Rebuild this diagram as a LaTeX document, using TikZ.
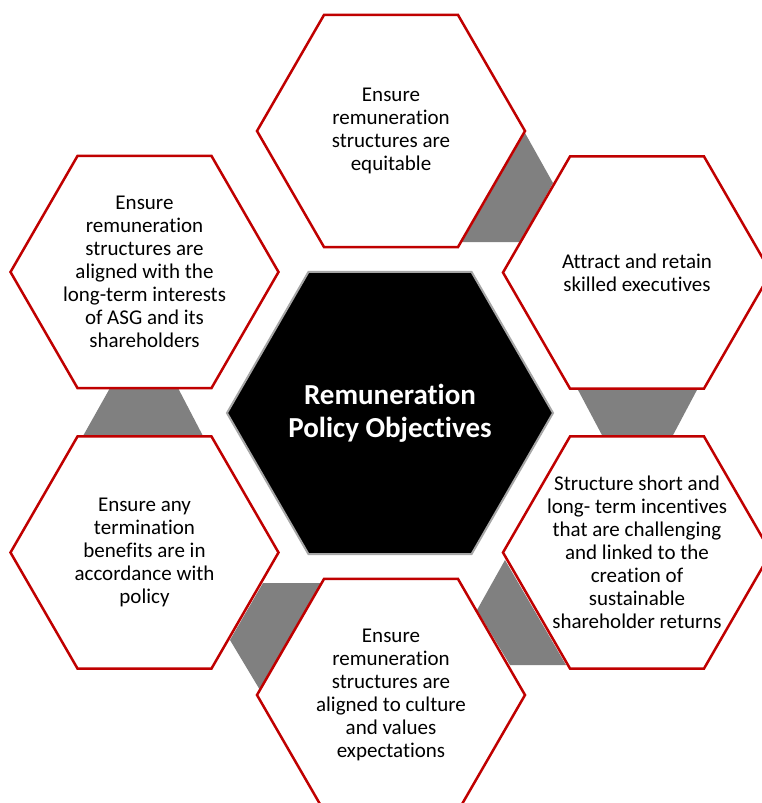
\documentclass[tikz,border=0pt]{standalone}
\usepackage{fontspec}
\setmainfont{Carlito}[Ligatures=NoCommon]
\usetikzlibrary{shapes.geometric}
\definecolor{hexred}{HTML}{C00000}
\definecolor{gapgrey}{HTML}{808080}
\definecolor{rimgrey}{HTML}{A6A6A6}
\tikzset{
  outerhex/.style={regular polygon, regular polygon sides=6, minimum size=268pt,
    inner sep=0pt, outer sep=0pt, draw=hexred, line width=2.5pt, fill=white, line join=miter},
  centerhex/.style={regular polygon, regular polygon sides=6, minimum size=326pt,
    inner sep=0pt, outer sep=0pt, draw=rimgrey, line width=2pt, fill=black},
  hextext/.style={align=center, font=\fontsize{21}{23}\selectfont, text=black, inner sep=0pt},
  centertext/.style={align=center, font=\fontsize{29}{33}\selectfont\bfseries, text=white, inner sep=0pt},
  gapfill/.style={fill=gapgrey}
}
\begin{document}
\begin{tikzpicture}[x=1pt,y=-1pt]
\useasboundingbox (0,0) rectangle (762,803);
\clip (0,0) rectangle (762,803);
\fill[white] (0,0) rectangle (762,803);
% grey gap pieces
\fill[gapfill] (525,133) -- (553,183) -- (520,242) -- (462,242) -- cycle;
\fill[gapfill] (577,388) -- (698,388) -- (672,437) -- (603,437) -- cycle;
\fill[gapfill] (505,560) -- (477,610) -- (510,665) -- (566,665) -- cycle;
\fill[gapfill] (263,583) -- (322,583) -- (260,690) -- (230,640) -- cycle;
\fill[gapfill] (110,388) -- (178,388) -- (203,436) -- (83,436) -- cycle;
% hexagons
\node[centerhex] (hC) at (390,413) {};
\node[outerhex] (hT) at (391,131) {};
\node[outerhex] (hUR) at (637,272.5) {};
\node[outerhex] (hLR) at (637,552.5) {};
\node[outerhex] (hB) at (391,695) {};
\node[outerhex] (hLL) at (144.5,552.5) {};
\node[outerhex] (hUL) at (144.5,272) {};
% texts
\node[centertext] (tC) at (hC.center) {Remuneration\\Policy Objectives};
\node[hextext] (tT) at (hT.center) {Ensure\\remuneration\\structures are\\equitable};
\node[hextext] (tUR) at (hUR.center) {Attract and retain\\skilled executives};
\node[hextext] (tLR) at (hLR.center) {Structure short and\\long- term incentives\\that are challenging\\and linked to the\\creation of\\sustainable\\shareholder returns};
\node[hextext] (tB) at (hB.center) {Ensure\\remuneration\\structures are\\aligned to culture\\and values\\expectations};
\node[hextext] (tLL) at (hLL.center) {Ensure any\\termination\\benefits are in\\accordance with\\policy};
\node[hextext] (tUL) at (hUL.center) {Ensure\\remuneration\\structures are\\aligned with the\\long-term interests\\of ASG and its\\shareholders};
\end{tikzpicture}
\end{document}
